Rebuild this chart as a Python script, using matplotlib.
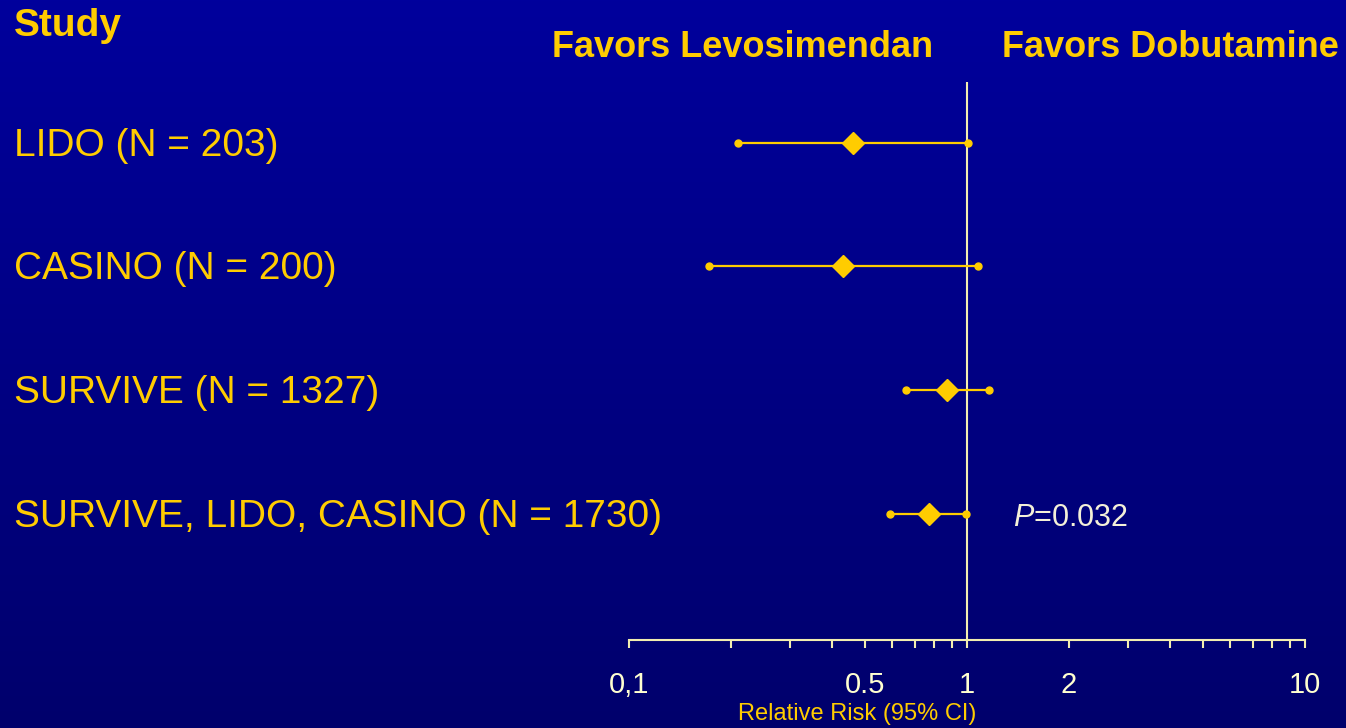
import numpy as np
import matplotlib
matplotlib.use("Agg")
import matplotlib.pyplot as plt
from matplotlib import font_manager
from matplotlib.ticker import FixedLocator, NullFormatter
from matplotlib.colors import LinearSegmentedColormap

plt.rcParams['font.family'] = ['Liberation Sans', 'DejaVu Sans']
plt.rcParams['mathtext.fontset'] = 'custom'
plt.rcParams['mathtext.it'] = 'Liberation Sans:italic'
plt.rcParams['mathtext.rm'] = 'Liberation Sans'

# Studies and relative risks (95% CI)
studies = ["LIDO (N = 203)", "CASINO (N = 200)", "SURVIVE (N = 1327)",
           "SURVIVE, LIDO, CASINO (N = 1730)"]
rr = [0.46, 0.43, 0.87, 0.77]
ci_low = [0.21, 0.172, 0.66, 0.59]
ci_high = [1.01, 1.08, 1.16, 0.99]

tick_vals = [0.1, 0.5, 1, 2, 10]
tick_text = ["0,1", "0.5", "1", "2", "10"]
minor_vals = [0.2, 0.3, 0.4, 0.6, 0.7, 0.8, 0.9, 3, 4, 5, 6, 7, 8, 9]

gold = '#FFCC00'
cream = '#F2EDB0'

# narrow face for the axis, if there is one
names = {f.name for f in font_manager.fontManager.ttflist}
narrow = None
for cand in ['Liberation Sans Narrow', 'DejaVu Sans Condensed']:
    if cand in names:
        narrow = cand
        break
if narrow:
    ax_font, tick_size, xlab_size = [narrow, 'Liberation Sans'], 22, 21
else:
    ax_font, tick_size, xlab_size = ['Liberation Sans'], 21, 17

W, H = 1346, 728
fig = plt.figure(figsize=(W / 100, H / 100), dpi=100)

# background gradient
bg = fig.add_axes([0, 0, 1, 1])
cmap = LinearSegmentedColormap.from_list('bg', ['#00009C', '#00006C'])
bg.imshow(np.linspace(0, 1, 256).reshape(-1, 1), aspect='auto', cmap=cmap,
          extent=[0, 1, 0, 1])
bg.set_axis_off()

ax = fig.add_axes([629 / W, 1 - 640 / H, 676 / W, (640 - 82) / H])
ax.patch.set_alpha(0)
ax.set_xscale('log')
ax.set_xlim(0.1, 10)
ax.set_ylim(4.02, -0.49)

rows = np.arange(len(studies))
ax.axvline(1, color=cream, lw=1.5, zorder=1)
for y, m, lo, hi in zip(rows, rr, ci_low, ci_high):
    ax.plot([lo, hi], [y, y], color=gold, lw=1.6, zorder=2)
    ax.plot([lo, hi], [y, y], 'o', color=gold, ms=5, zorder=3)
    ax.plot(m, y, 'D', color=gold, ms=11, zorder=4)

for s in ['top', 'left', 'right']:
    ax.spines[s].set_visible(False)
ax.spines['bottom'].set_color(cream)
ax.spines['bottom'].set_linewidth(1.5)
ax.set_yticks([])
ax.xaxis.set_major_locator(FixedLocator(tick_vals))
ax.xaxis.set_minor_locator(FixedLocator(minor_vals))
ax.xaxis.set_minor_formatter(NullFormatter())
ax.set_xticklabels(tick_text)
ax.tick_params(axis='x', which='both', direction='out', length=6, width=1.5,
               color=cream)
ax.tick_params(axis='x', which='major', pad=16, labelsize=tick_size,
               labelcolor='#FFFFD0')
for lab in ax.get_xticklabels():
    lab.set_family(ax_font)

# study names on the left
for y, name in zip(rows, studies):
    ax.annotate(name, xy=(14 / W, y), xycoords=('figure fraction', 'data'),
                xytext=(0, -9.4), textcoords='offset points',
                va='baseline', ha='left', color=gold, fontsize=28)

fig.text(14 / W, 1 - 36 / H, "Study", color=gold, fontsize=28,
         fontweight='bold', va='baseline', ha='left')
fig.text(743 / W, 1 - 57 / H, "Favors Levosimendan", color=gold, fontsize=26,
         fontweight='bold', va='baseline', ha='center')
fig.text(1170 / W, 1 - 57 / H, "Favors Dobutamine", color=gold, fontsize=26,
         fontweight='bold', va='baseline', ha='center')
fig.text(1013 / W, 1 - 526 / H, r"$P$=0.032", color='#F4F0D8', fontsize=22,
         va='baseline', ha='left')
fig.text(857 / W, 1 - 714 / H, "Relative Risk (95% CI)", color=gold,
         fontsize=xlab_size, family=ax_font, va='center', ha='center')

fig.savefig('out.png', dpi=100)
